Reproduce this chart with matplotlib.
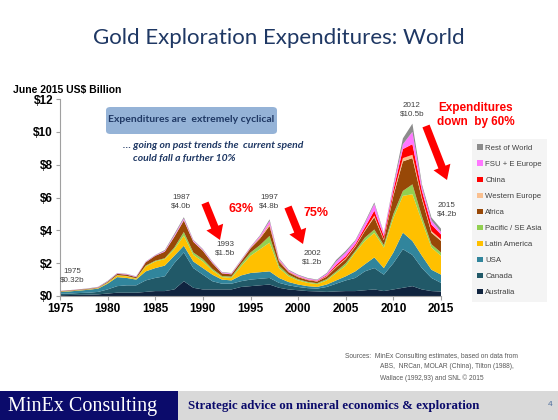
import numpy as np
import matplotlib.pyplot as plt
from matplotlib.patches import Patch, FancyBboxPatch, Rectangle

years = list(range(1975, 2016))

# US$ billion (June 2015 terms), by region
australia = [.05, .06, .07, .08, .10, .15, .20, .20, .20, .25, .30, .30, .40, .90, .50, .40, .40, .40, .40, .55,
             .60, .65, .70, .50, .40, .35, .30, .28, .25, .28, .30, .30, .35, .40, .30, .40, .50, .60, .40, .30, .27]
canada = [.08, .09, .11, .12, .15, .25, .40, .45, .45, .70, .80, .90, 1.60, 1.75, 1.20, .90, .50, .35, .35, .35,
          .40, .40, .40, .30, .25, .20, .18, .17, .30, .47, .65, .80, 1.15, 1.30, 1.00, 1.60, 2.35, 1.90, 1.30, .80, .53]
usa = [.11, .13, .15, .18, .20, .35, .55, .45, .35, .55, .60, .65, .45, .41, .40, .40, .40, .25, .20, .35,
       .40, .40, .40, .30, .20, .15, .12, .10, .15, .20, .25, .40, .43, .65, .40, .65, 1.01, .85, .75, .50, .50]
latin_america = [.02, .02, .02, .02, .03, .05, .10, .10, .05, .30, .40, .40, .40, .61, .40, .40, .25, .15, .15, .55,
                 1.05, 1.40, 1.75, .60, .35, .25, .20, .17, .25, .45, .65, 1.15, 1.42, 1.50, 1.25, 2.10, 2.24, 2.85, 2.10, 1.35, 1.15]
pacific = [.01, .01, .01, .01, .01, .02, .02, .02, .03, .05, .05, .05, .10, .23, .15, .15, .10, .07, .08, .15,
           .20, .25, .41, .15, .10, .07, .06, .06, .08, .10, .15, .10, .20, .20, .15, .25, .30, .60, .30, .20, .20]
africa = [.03, .03, .03, .03, .03, .05, .08, .08, .07, .20, .30, .40, .65, .70, .65, .50, .35, .16, .14, .15,
          .25, .40, .61, .25, .15, .13, .11, .10, .15, .25, .25, .25, .40, .75, .30, 1.10, 1.80, 1.60, 1.05, .70, .70]
west_europe = [0, 0, 0, 0, 0, 0, 0, 0, 0, 0, 0, 0, .02, .03, .02, .02, .02, .01, .01, .02,
               .02, .05, .10, .05, .03, .03, .02, .02, .03, .05, .05, .05, .05, .10, .05, .10, .20, .20, .10, .10, .10]
china = [0, 0, 0, 0, 0, 0, 0, 0, 0, 0, 0, 0, 0, 0, 0, 0, 0, 0, 0, .01,
         .01, .02, .03, .03, .02, .02, .02, .03, .05, .10, .12, .10, .17, .30, .20, .25, .55, .65, .40, .40, .30]
fsu = [.01, .01, .01, .01, .02, .02, .03, .03, .03, .03, .03, .05, .08, .09, .06, .05, .05, .04, .04, .04,
       .04, .08, .17, .07, .06, .06, .05, .04, .09, .20, .23, .20, .25, .40, .15, .25, .30, .75, .25, .25, .15]
rest_world = [.01, .01, .01, .02, .02, .03, .02, .02, .02, .02, .02, .05, .08, .08, .04, .04, .03, .03, .03, .03,
              .03, .05, .10, .05, .04, .04, .04, .03, .05, .10, .10, .05, .08, .10, .05, .10, .35, .50, .15, .18, .20]

series = [australia, canada, usa, latin_america, pacific, africa, west_europe, china, fsu, rest_world]
names = ['Australia', 'Canada', 'USA', 'Latin America', 'Pacific / SE Asia', 'Africa',
         'Western Europe', 'China', 'FSU + E Europe', 'Rest of World']
colors = ['#10243f', '#215968', '#31859c', '#ffc000', '#92d050', '#984807',
          '#fac090', '#ff0000', '#ff77ff', '#8c8c8c']

# peak / trough call-outs
call_years = [1975, 1987, 1993, 1997, 2002, 2012, 2015]
call_values = ['$0.32b', '$4.0b', '$1.5b', '$4.8b', '$1.2b', '$10.5b', '$4.2b']
call_pos = [(72, 276), (181, 202), (225, 249), (269, 202), (312, 258), (412, 110), (447, 210)]

W, H = 558, 420
def fx(px):
    return px / W
def fy(py):
    return 1 - py / H

plt.rcParams['font.family'] = ['Liberation Sans', 'DejaVu Sans']
fig = plt.figure(figsize=(5.58, 4.2), dpi=100)
ax = fig.add_axes([fx(60), fy(296), fx(441) - fx(60), fy(99) - fy(296)])

ax.stackplot(years, *series, colors=colors, linewidth=0)
ax.set_xlim(1975, 2015)
ax.set_ylim(0, 12)
ax.set_xticks(range(1975, 2016, 5))
ax.set_yticks(range(0, 13, 2))
ax.set_yticklabels(['$%d' % v for v in range(0, 13, 2)])
ax.tick_params(labelsize=8.5, length=3, color='#a0a0a0', pad=2)
for lab in ax.get_xticklabels() + ax.get_yticklabels():
    lab.set_fontweight('bold')
for s in ['top', 'right']:
    ax.spines[s].set_visible(False)
for s in ['left', 'bottom']:
    ax.spines[s].set_color('#a0a0a0')

# title & units
fig.text(fx(279), fy(38), 'Gold Exploration Expenditures: World', ha='center', va='center',
         fontsize=16, color='#1f3864', family='Lato')
fig.text(fx(13), fy(90), 'June 2015 US$ Billion', ha='left', va='center', fontsize=7.5, fontweight='bold')

# blue call-out box
box = FancyBboxPatch((fx(106), fy(134)), fx(277) - fx(106), fy(107) - fy(134),
                     boxstyle='round,pad=0,rounding_size=0.008', transform=fig.transFigure,
                     facecolor='#95b3d7', edgecolor='none')
fig.patches.append(box)
fig.text(fx(191), fy(120), 'Expenditures are  extremely cyclical', ha='center', va='center',
         fontsize=7.5, fontweight='bold', color='#1f3864', family='Lato')
fig.text(fx(123), fy(146), '… going on past trends the  current spend', ha='left', va='center',
         fontsize=7.5, fontweight='bold', style='italic', color='#1f3864', family='Lato')
fig.text(fx(133), fy(158), 'could fall a further 10%', ha='left', va='center',
         fontsize=7.5, fontweight='bold', style='italic', color='#1f3864', family='Lato')

for yr, val, (px, py) in zip(call_years, call_values, call_pos):
    fig.text(fx(px), fy(py), '%d\n%s' % (yr, val), ha='center', va='center', fontsize=5.8,
             color='#404040', linespacing=1.3)

# red arrows
arrows = [((205, 203), (220, 240)), ((288, 207), (303, 244)), ((426, 126), (447, 180))]
for (x0, y0), (x1, y1) in arrows:
    fig.add_artist(plt.Annotation('', xy=(fx(x1), fy(y1)), xytext=(fx(x0), fy(y0)),
                                  xycoords='figure fraction', textcoords='figure fraction',
                                  arrowprops=dict(arrowstyle='simple,head_width=1.3,head_length=1.0,tail_width=0.55',
                                                  mutation_scale=10, color='red', lw=0, shrinkA=0, shrinkB=0)))
fig.text(fx(228), fy(209), '63%', ha='left', va='center', fontsize=9, fontweight='bold', color='red')
fig.text(fx(303), fy(213), '75%', ha='left', va='center', fontsize=9, fontweight='bold', color='red')
fig.text(fx(476), fy(115), 'Expenditures\ndown  by 60%', ha='center', va='center', fontsize=8.5,
         fontweight='bold', color='red', linespacing=1.3)

# legend
handles = [Patch(facecolor=c, edgecolor='none') for c in colors][::-1]
leg = ax.legend(handles, names[::-1], loc='upper left', bbox_to_anchor=(fx(472), fy(139)),
                bbox_transform=fig.transFigure, borderaxespad=0, fontsize=5.6, frameon=True,
                fancybox=False, handlelength=0.65, handleheight=0.65, handletextpad=0.35,
                labelspacing=1.12, borderpad=0.7)
leg.get_frame().set_facecolor('#f2f2f2')
leg.get_frame().set_edgecolor('none')
for t in leg.get_texts():
    t.set_color('#404040')

# sources
fig.text(fx(345), fy(356), 'Sources:  MinEx Consulting estimates, based on data from', fontsize=4.8, color='#595959', va='center')
fig.text(fx(380), fy(367), 'ABS,  NRCan, MOLAR (China), Tilton (1988),', fontsize=4.8, color='#595959', va='center')
fig.text(fx(380), fy(378), 'Wallace (1992,93) and SNL © 2015', fontsize=4.8, color='#595959', va='center')

# footer banner
fig.patches.append(Rectangle((0, 0), fx(178), fy(391), transform=fig.transFigure,
                             facecolor='#0b0b6b', edgecolor='none'))
fig.patches.append(Rectangle((fx(178), 0), 1 - fx(178), fy(391), transform=fig.transFigure,
                             facecolor='#d9d9d9', edgecolor='none'))
fig.text(fx(8), fy(406), 'MinEx Consulting', fontsize=14.5, color='white', va='center', family='Liberation Serif')
fig.text(fx(188), fy(406), 'Strategic advice on mineral economics & exploration', fontsize=9.3,
         fontweight='bold', color='#0b0b6b', va='center', family='Liberation Serif')
fig.text(fx(548), fy(405), '4', fontsize=6, color='#4f6f9f', va='center')

fig.savefig('out.png', dpi=100)
